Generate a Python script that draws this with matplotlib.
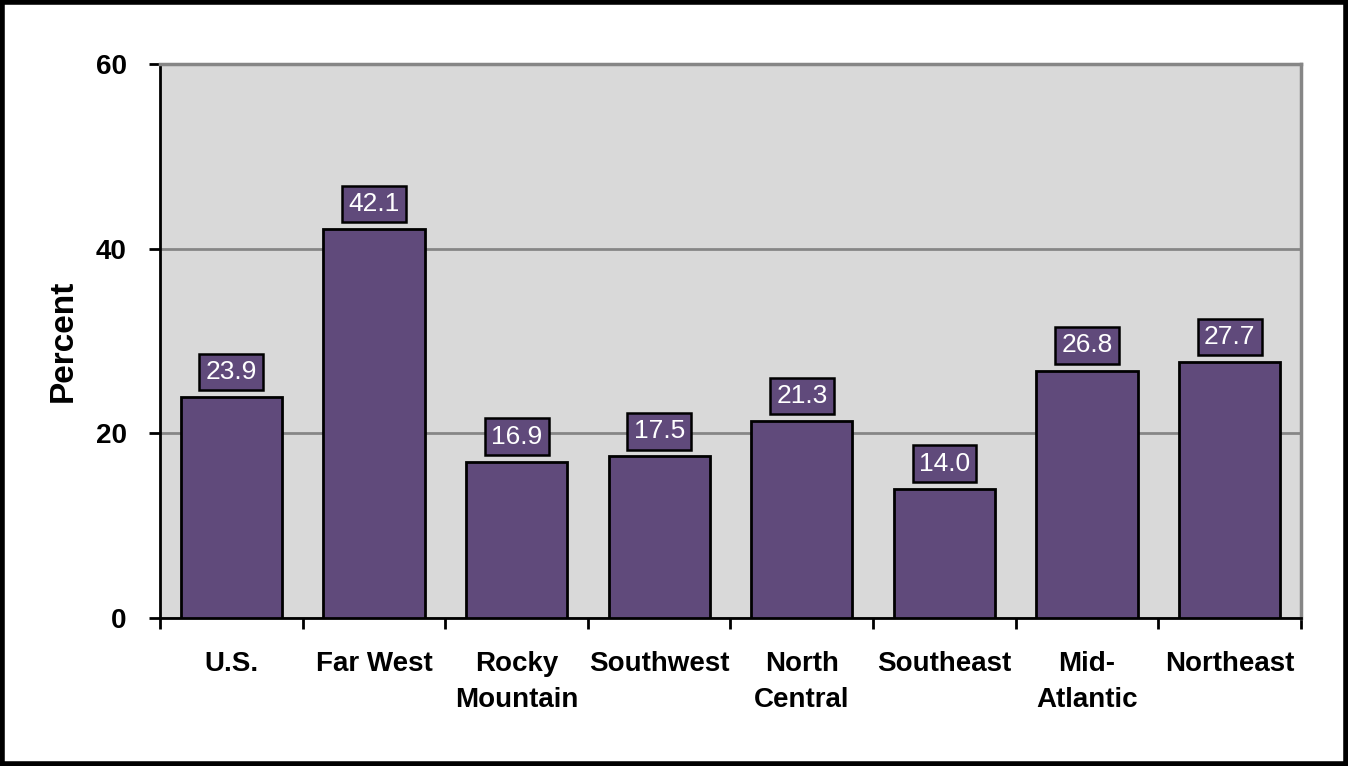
import matplotlib.pyplot as plt
from matplotlib.patches import Rectangle

regions = ['U.S.', 'Far West', 'Rocky\nMountain', 'Southwest', 'North\nCentral',
           'Southeast', 'Mid-\nAtlantic', 'Northeast']
percent = [23.9, 42.1, 16.9, 17.5, 21.3, 14.0, 26.8, 27.7]

plt.rcParams['font.family'] = ['Liberation Sans', 'DejaVu Sans']

fig = plt.figure(figsize=(13.48, 7.66), dpi=100)
ax = fig.add_axes([0.1187, 0.1932, 0.8464, 0.7232])
ax.set_facecolor('#d9d9d9')

x = range(len(regions))
ax.bar(x, percent, width=0.71, color='#604a7b', edgecolor='black', linewidth=2, zorder=3)

for xi, v in zip(x, percent):
    ax.annotate(f'{v:.1f}', (xi, v), xytext=(0, 9.5), textcoords='offset points',
                ha='center', va='bottom', color='white', fontsize=19,
                bbox=dict(boxstyle='square,pad=0.24', fc='#604a7b', ec='black', lw=1.8),
                zorder=4)

ax.set_xlim(-0.5, len(regions) - 0.5)
ax.set_ylim(0, 60)
ax.set_yticks([0, 20, 40, 60])
ax.set_yticklabels(['0', '20', '40', '60'], fontsize=20, fontweight='bold')
ax.yaxis.grid(True, color='#868686', linewidth=2, zorder=0)
ax.set_axisbelow(True)

# category boundary ticks, labels centred under bars
ax.set_xticks([i - 0.5 for i in range(len(regions) + 1)])
ax.set_xticklabels([])
ax.set_xticks(list(x), minor=True)
ax.set_xticklabels(regions, minor=True, fontsize=20, fontweight='bold', va='top', linespacing=1.5)
ax.tick_params(axis='x', which='major', length=8, width=2, direction='out')
ax.tick_params(axis='x', which='minor', length=0, pad=24)
ax.tick_params(axis='y', length=8, width=2, pad=16)

for s in ['left', 'bottom']:
    ax.spines[s].set_color('black')
    ax.spines[s].set_linewidth(2)
for s in ['top', 'right']:
    ax.spines[s].set_color('#868686')
    ax.spines[s].set_linewidth(2.5)

ax.set_ylabel('Percent', fontsize=24, fontweight='bold', labelpad=12)

fig.patches.append(Rectangle((0.0015, 0.002), 0.997, 0.996, transform=fig.transFigure,
                             fill=False, ec='black', lw=4))

plt.savefig('out.png', dpi=100)
